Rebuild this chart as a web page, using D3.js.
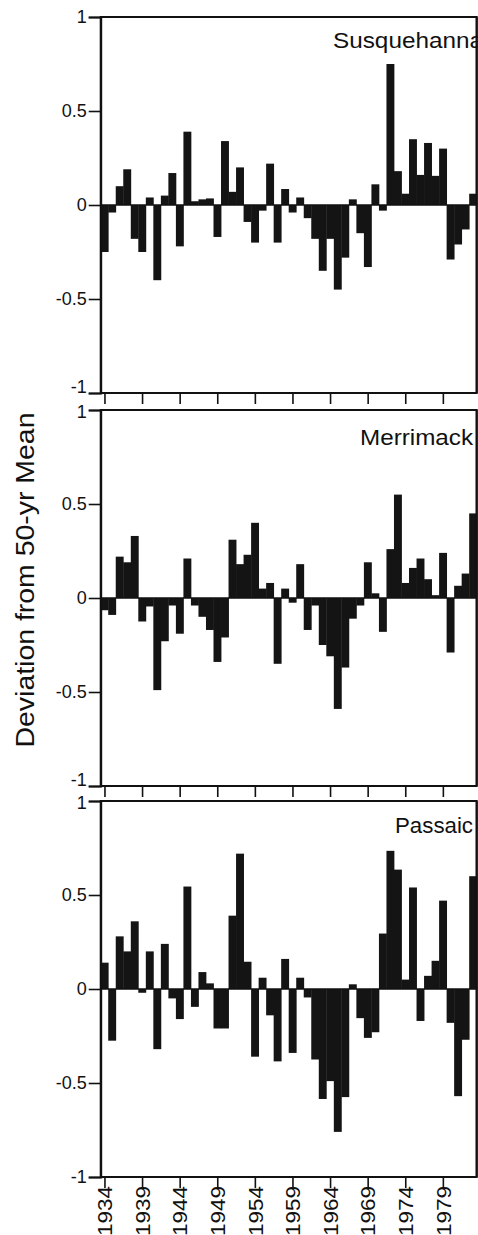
<!DOCTYPE html>
<html>
<head>
<meta charset="utf-8">
<script src="https://cdn.jsdelivr.net/npm/d3@7"></script>
<style>
  html, body { margin: 0; padding: 0; background: #fff; }
  svg { display: block; }
  text { font-family: "Liberation Sans", Arial, sans-serif; fill: #111; }
</style>
</head>
<body>
<svg id="chart" width="478" height="1235"></svg>
<script>
// Annual deviation from the 50-year mean, three rivers
const years = [1934,1935,1936,1937,1938,1939,1940,1941,1942,1943,
               1944,1945,1946,1947,1948,1949,1950,1951,1952,1953,
               1954,1955,1956,1957,1958,1959,1960,1961,1962,1963,
               1964,1965,1966,1967,1968,1969,1970,1971,1972,1973,
               1974,1975,1976,1977,1978,1979,1980,1981,1982,1983];

const susquehanna = [-0.25,-0.04,0.10,0.19,-0.18,-0.25,0.04,-0.40,0.05,0.17,
                     -0.22,0.39,0.02,0.03,0.035,-0.17,0.34,0.07,0.20,-0.09,
                     -0.20,-0.03,0.22,-0.20,0.085,-0.04,0.04,-0.07,-0.18,-0.35,
                     -0.18,-0.45,-0.28,0.03,-0.15,-0.33,0.11,-0.03,0.75,0.18,
                     0.06,0.35,0.16,0.33,0.155,0.30,-0.29,-0.21,-0.13,0.06];

const merrimack = [-0.065,-0.09,0.22,0.19,0.33,-0.125,-0.045,-0.49,-0.23,-0.04,
                   -0.19,0.21,-0.04,-0.10,-0.17,-0.34,-0.21,0.31,0.18,0.23,
                   0.40,0.05,0.08,-0.35,0.05,-0.025,0.18,-0.17,-0.04,-0.25,
                   -0.31,-0.59,-0.37,-0.11,-0.04,0.19,0.025,-0.18,0.26,0.55,
                   0.08,0.16,0.21,0.10,0.015,0.24,-0.29,0.065,0.13,0.45];

const passaic = [0.14,-0.275,0.28,0.20,0.36,-0.02,0.20,-0.32,0.24,-0.05,
                 -0.16,0.545,-0.095,0.09,0.03,-0.21,-0.21,0.39,0.72,0.145,
                 -0.36,0.06,-0.14,-0.385,0.16,-0.34,0.06,-0.045,-0.375,-0.585,
                 -0.49,-0.76,-0.575,0.025,-0.155,-0.26,-0.23,0.295,0.735,0.635,
                 0.05,0.54,-0.17,0.07,0.15,0.47,-0.18,-0.57,-0.27,0.60];

const riverNames = ["Susquehanna", "Merrimack", "Passaic"];
const riverSeries = [susquehanna, merrimack, passaic];

const yearTicks = [1934,1939,1944,1949,1954,1959,1964,1969,1974,1979];
const yearTickLabels = ["1934","1939","1944","1949","1954","1959","1964","1969","1974","1979"];
const valueTicks = [-1,-0.5,0,0.5,1];
const valueTickLabels = ["-1","-0.5","0","0.5","1"];
const yTitle = "Deviation from 50-yr Mean";

// Layout
const svg = d3.select("#chart");
const left = 100.7, right = 476.7;
const panelTops = [17, 410, 801];
const panelH = 376;
// Label placement inside each panel (start x, baseline offset, stretched length)
const labelBox = [
  { x: 333, dy: 31, len: 150 },
  { x: 360, dy: 35, len: 113 },
  { x: 395, dy: 32, len: 78 }
];

const x = d3.scaleLinear()
  .domain([years[0] - 0.5, years[years.length - 1] + 0.5])
  .range([left, right]);
const step = x(years[0] + 1) - x(years[0]);

svg.append("rect").attr("width", 478).attr("height", 1235).attr("fill", "#fff");

riverSeries.forEach((vals, p) => {
  const top = panelTops[p];
  const y = d3.scaleLinear().domain([-1, 1]).range([top + panelH, top]);
  const g = svg.append("g");

  // bars
  g.append("g").selectAll("rect")
    .data(years.map((yr, i) => ({ yr, v: vals[i] })))
    .join("rect")
    .attr("x", d => x(d.yr - 0.5))
    .attr("width", step + 0.4)
    .attr("y", d => Math.min(y(d.v), y(0)))
    .attr("height", d => Math.abs(y(d.v) - y(0)))
    .attr("fill", "#141414");

  // zero line
  g.append("line")
    .attr("x1", left).attr("x2", right)
    .attr("y1", y(0)).attr("y2", y(0))
    .attr("stroke", "#111").attr("stroke-width", 1.5);

  // frame
  g.append("rect")
    .attr("x", left).attr("y", top)
    .attr("width", right - left).attr("height", panelH)
    .attr("fill", "none").attr("stroke", "#111").attr("stroke-width", 2);

  // left axis
  const ya = g.append("g")
    .attr("transform", `translate(${left},0)`)
    .call(d3.axisLeft(y).tickValues(valueTicks).tickSize(12).tickPadding(2)
      .tickFormat((d, i) => valueTickLabels[i]));
  ya.select(".domain").attr("stroke", "#111").attr("stroke-width", 2);
  ya.selectAll(".tick line").attr("stroke", "#111").attr("stroke-width", 1.6);
  ya.selectAll(".tick text").attr("font-size", 18).attr("fill", "#111")
    .attr("font-family", "Liberation Sans, Arial, sans-serif")
    .attr("dy", d => {
      // keep the stacked -1 / 1 labels between panels apart
      if (d === -1 && p < 2) return "-0.05em";
      if (d === 1 && p > 0) return "0.42em";
      return "0.32em";
    });

  // bottom axis
  const xa = g.append("g")
    .attr("transform", `translate(0,${top + panelH})`)
    .call(d3.axisBottom(x).tickValues(yearTicks).tickSize(11)
      .tickFormat((d, i) => p === 2 ? yearTickLabels[i] : ""));
  xa.select(".domain").remove();
  xa.selectAll(".tick line").attr("stroke", "#111").attr("stroke-width", 1.6);
  xa.selectAll(".tick text")
    .attr("font-size", 20).attr("fill", "#111")
    .attr("font-family", "Liberation Sans, Arial, sans-serif")
    .attr("text-anchor", "end")
    .attr("transform", "rotate(-90)")
    .attr("x", -9).attr("y", 0).attr("dy", "0.36em")
    .attr("textLength", 50).attr("lengthAdjust", "spacingAndGlyphs");

  // river name
  g.append("text")
    .attr("x", labelBox[p].x)
    .attr("y", top + labelBox[p].dy)
    .attr("font-size", 22)
    .attr("textLength", labelBox[p].len)
    .attr("lengthAdjust", "spacingAndGlyphs")
    .text(riverNames[p]);
});

// right edge of each frame drawn on top of the river names
panelTops.forEach(top => {
  svg.append("line")
    .attr("x1", right).attr("x2", right)
    .attr("y1", top).attr("y2", top + panelH)
    .attr("stroke", "#111").attr("stroke-width", 2);
});

// shared y title
svg.append("text")
  .attr("transform", "translate(34,580) rotate(-90)")
  .attr("text-anchor", "middle")
  .attr("font-size", 25)
  .attr("textLength", 335)
  .attr("lengthAdjust", "spacingAndGlyphs")
  .text(yTitle);
</script>
</body>
</html>
